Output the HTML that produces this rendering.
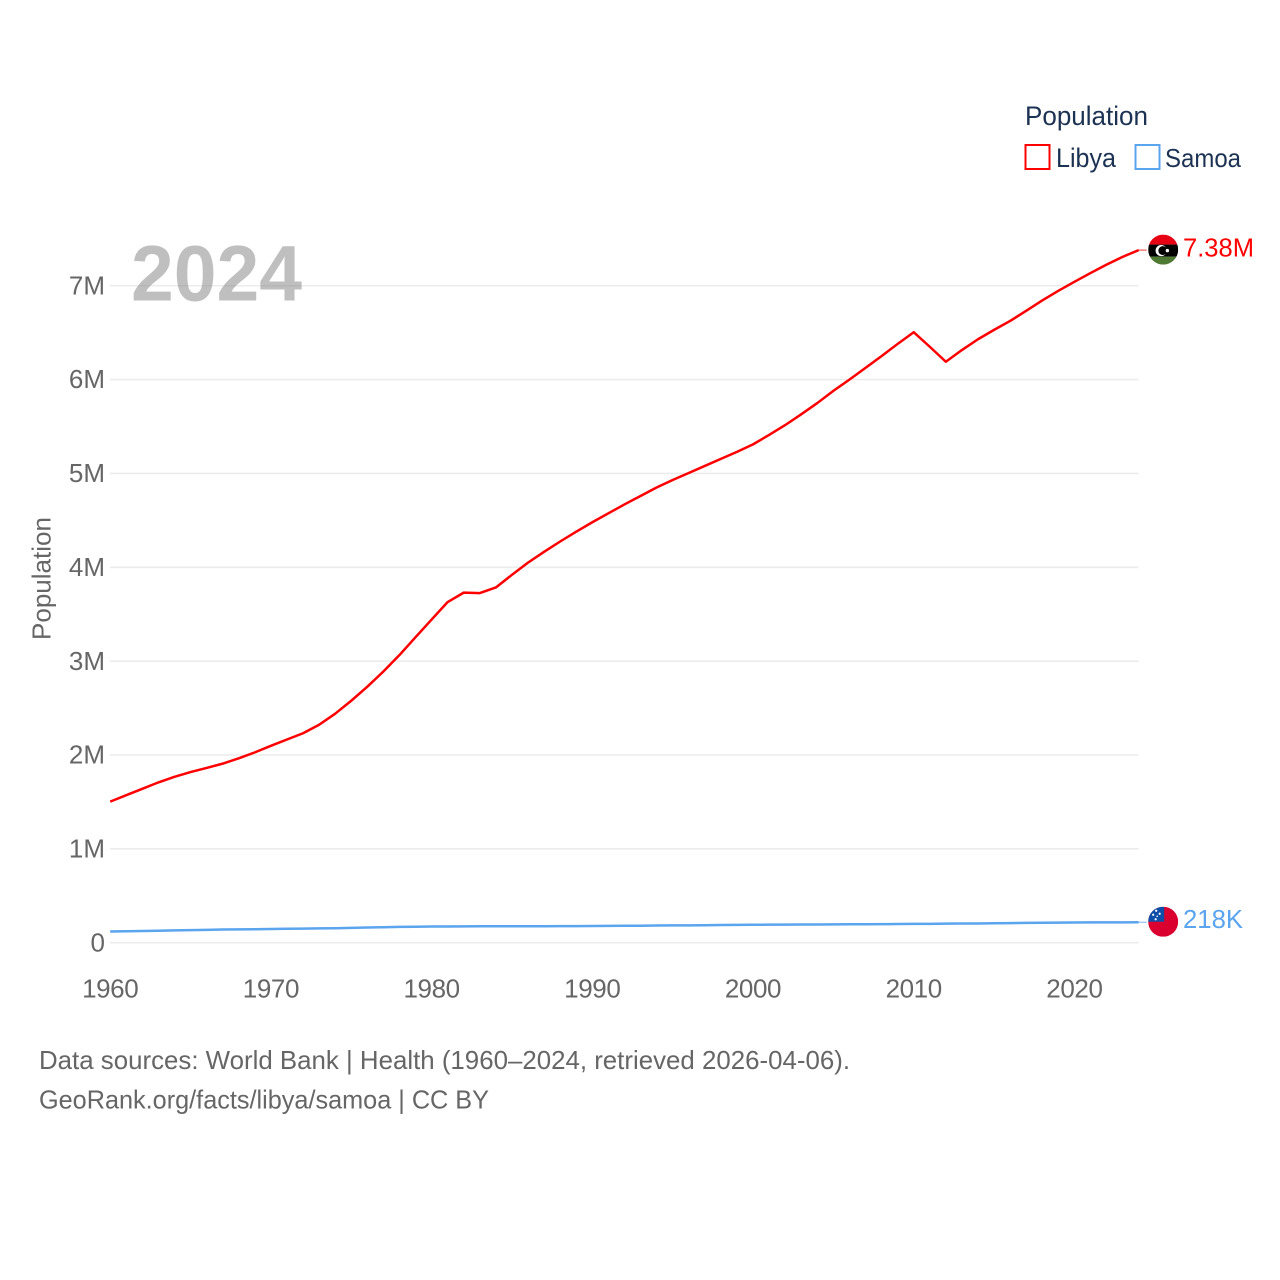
<!DOCTYPE html>
<html lang="en">
<head>
<meta charset="utf-8">
<title>Population: Libya and Samoa</title>
<style>
html,body{margin:0;padding:0;background:#fff;}
svg{display:block;}
text{font-family:"Liberation Sans",sans-serif;}
</style>
</head>
<body>
<svg id="chart" xmlns="http://www.w3.org/2000/svg" width="1280" height="1280" viewBox="0 0 1280 1280">
  <rect x="0" y="0" width="1280" height="1280" fill="#ffffff"/>
  <g id="grid"></g>
  <g id="yticks"></g>
  <g id="xticks"></g>
  <text transform="translate(50.5,578.5) rotate(-90)" text-anchor="middle" font-size="26" fill="#666666" textLength="123" lengthAdjust="spacingAndGlyphs">Population</text>
  <text x="131" y="300.5" font-size="79" font-weight="bold" fill="#808080" fill-opacity="0.5" textLength="171" lengthAdjust="spacingAndGlyphs">2024</text>
  <g id="series"></g>

  <g id="legend">
    <text x="1025" y="125" font-size="27" fill="#1b3252" textLength="123" lengthAdjust="spacingAndGlyphs">Population</text>
    <rect x="1025.5" y="145" width="24" height="24" fill="none" stroke="#ff0000" stroke-width="2"/>
    <text x="1056" y="167" font-size="27" fill="#1b3252" textLength="60" lengthAdjust="spacingAndGlyphs">Libya</text>
    <rect x="1135.5" y="145" width="24" height="24" fill="none" stroke="#5ba4ee" stroke-width="2"/>
    <text x="1165" y="167" font-size="26" fill="#1b3252" textLength="76" lengthAdjust="spacingAndGlyphs">Samoa</text>
  </g>

  <defs>
    <clipPath id="clip-libya"><circle cx="0" cy="0" r="15"/></clipPath>
    <clipPath id="clip-samoa"><circle cx="0" cy="0" r="15"/></clipPath>
  </defs>

  <g id="flag-libya">
    <g clip-path="url(#clip-libya)">
      <rect x="-15" y="-15" width="30" height="10" fill="#e70013"/>
      <rect x="-15" y="-5" width="30" height="12" fill="#000000"/>
      <rect x="-15" y="7" width="30" height="8" fill="#4f7a33"/>
      <circle cx="-2" cy="1" r="5.6" fill="#ffffff"/>
      <circle cx="-0.4" cy="1" r="4.4" fill="#000000"/>
      <circle cx="4.2" cy="1" r="1.7" fill="#ffffff"/>
    </g>
  </g>
  <g id="flag-samoa">
    <g clip-path="url(#clip-samoa)">
      <rect x="-15" y="-15" width="30" height="30" fill="#da0030"/>
      <rect x="-15" y="-15" width="16" height="15" fill="#0f4ea8"/>
      <circle cx="-7" cy="-11" r="1.1" fill="#ffffff"/>
      <circle cx="-3.5" cy="-8" r="1.1" fill="#ffffff"/>
      <circle cx="-10" cy="-7" r="1.1" fill="#ffffff"/>
      <circle cx="-6" cy="-5.5" r="0.8" fill="#ffffff"/>
      <circle cx="-7.5" cy="-2.5" r="1.1" fill="#ffffff"/>
    </g>
  </g>

  <text id="label-libya" x="1183" y="256" font-size="26" fill="#ff0000" textLength="71" lengthAdjust="spacingAndGlyphs">7.38M</text>
  <text id="label-samoa" x="1183" y="928" font-size="26" fill="#5ba4ee" textLength="60" lengthAdjust="spacingAndGlyphs">218K</text>

  <text x="39" y="1069" font-size="26" fill="#666666" textLength="811" lengthAdjust="spacingAndGlyphs">Data sources: World Bank | Health (1960–2024, retrieved 2026-04-06).</text>
  <text x="39" y="1108.5" font-size="26" fill="#666666" textLength="450" lengthAdjust="spacingAndGlyphs">GeoRank.org/facts/libya/samoa | CC BY</text>
</svg>

<script>
const firstYear = 1960;
const yTickValues = [0, 1, 2, 3, 4, 5, 6, 7];
const yTickLabels = ["0", "1M", "2M", "3M", "4M", "5M", "6M", "7M"];
const xTickValues = [1960, 1970, 1980, 1990, 2000, 2010, 2020];
const xTickLabels = ["1960", "1970", "1980", "1990", "2000", "2010", "2020"];
const libyaValues = [
  1.503, 1.572, 1.640, 1.708, 1.768, 1.818, 1.862, 1.908, 1.965, 2.028,
  2.098, 2.165, 2.232, 2.322, 2.440, 2.578, 2.728, 2.890, 3.065, 3.255,
  3.443, 3.630, 3.730, 3.725, 3.785, 3.920, 4.050, 4.165, 4.275, 4.380,
  4.480, 4.575, 4.670, 4.760, 4.850, 4.930, 5.005, 5.080, 5.155, 5.230,
  5.310, 5.410, 5.515, 5.630, 5.750, 5.880, 6.000, 6.125, 6.250, 6.380,
  6.505, 6.350, 6.190, 6.315, 6.430, 6.530, 6.625, 6.733, 6.843, 6.946,
  7.042, 7.135, 7.225, 7.308, 7.380
];
const samoaValues = [
  0.119, 0.122, 0.125, 0.128, 0.131, 0.134, 0.137, 0.140, 0.142, 0.144,
  0.146, 0.148, 0.150, 0.152, 0.154, 0.158, 0.162, 0.165, 0.168, 0.170,
  0.172, 0.173, 0.174, 0.175, 0.175, 0.175, 0.175, 0.175, 0.176, 0.177,
  0.178, 0.179, 0.180, 0.181, 0.183, 0.184, 0.185, 0.186, 0.188, 0.190,
  0.191, 0.192, 0.193, 0.194, 0.194, 0.195, 0.196, 0.197, 0.198, 0.199,
  0.200, 0.201, 0.203, 0.204, 0.205, 0.207, 0.209, 0.211, 0.213, 0.214,
  0.215, 0.216, 0.217, 0.217, 0.218
];

const NS = "http://www.w3.org/2000/svg";
function xScale(year) { return 110.2 + (year - 1960) * 16.07; }
function yScale(millions) { return 942.7 - millions * 93.85; }

const gridGroup = document.getElementById("grid");
const yTickGroup = document.getElementById("yticks");
const xTickGroup = document.getElementById("xticks");
const seriesGroup = document.getElementById("series");

yTickValues.forEach(function (value, i) {
  const y = yScale(value);
  const line = document.createElementNS(NS, "line");
  
  
  line.setAttribute("x1", 110);
  line.setAttribute("x2", 1138.5);
  line.setAttribute("y1", y);
  line.setAttribute("y2", y);
  line.setAttribute("stroke", "#ececec");
  line.setAttribute("stroke-width", 1.6);
  gridGroup.appendChild(line);

  const label = document.createElementNS(NS, "text");
  
  
  label.setAttribute("x", 105);
  label.setAttribute("y", y + 8.6);
  label.setAttribute("text-anchor", "end");
  label.setAttribute("font-size", 26);
  label.setAttribute("fill", "#666666");
  label.textContent = yTickLabels[i];
  yTickGroup.appendChild(label);
});

xTickValues.forEach(function (year, i) {
  const label = document.createElementNS(NS, "text");
  
  
  label.setAttribute("x", xScale(year));
  label.setAttribute("y", 997.5);
  label.setAttribute("text-anchor", "middle");
  label.setAttribute("font-size", 26);
  label.setAttribute("letter-spacing", "-0.4");
  label.setAttribute("fill", "#666666");
  label.textContent = xTickLabels[i];
  xTickGroup.appendChild(label);
});

function drawSeries(values, color, lineName, connectorName) {
  const points = values.map(function (v, i) {
    return xScale(firstYear + i).toFixed(2) + "," + yScale(v).toFixed(2);
  }).join(" ");
  const poly = document.createElementNS(NS, "polyline");
  
  
  poly.setAttribute("points", points);
  poly.setAttribute("fill", "none");
  poly.setAttribute("stroke", color);
  poly.setAttribute("stroke-width", 2.5);
  poly.setAttribute("stroke-linejoin", "round");
  seriesGroup.appendChild(poly);

  const lastY = yScale(values[values.length - 1]);
  const lastX = xScale(firstYear + values.length - 1);
  const connector = document.createElementNS(NS, "line");
  
  
  connector.setAttribute("x1", lastX);
  connector.setAttribute("x2", lastX + 8);
  connector.setAttribute("y1", lastY);
  connector.setAttribute("y2", lastY);
  connector.setAttribute("stroke", color);
  connector.setAttribute("stroke-width", 1);
  connector.setAttribute("stroke-opacity", 0.8);
  seriesGroup.appendChild(connector);
  return lastY;
}

const libyaEndY = drawSeries(libyaValues, "#ff0000", "libya-line", "libya-connector");
const samoaEndY = drawSeries(samoaValues, "#5ba4ee", "samoa-line", "samoa-connector");

const flagX = xScale(firstYear + libyaValues.length - 1) + 24.5;
document.getElementById("flag-libya").setAttribute("transform", "translate(" + flagX + "," + (libyaEndY - 0.5) + ")");
document.getElementById("flag-samoa").setAttribute("transform", "translate(" + flagX + "," + (samoaEndY - 0.5) + ")");
document.getElementById("label-libya").setAttribute("y", libyaEndY + 6.5);
document.getElementById("label-samoa").setAttribute("y", samoaEndY + 6);
</script>
</body>
</html>
